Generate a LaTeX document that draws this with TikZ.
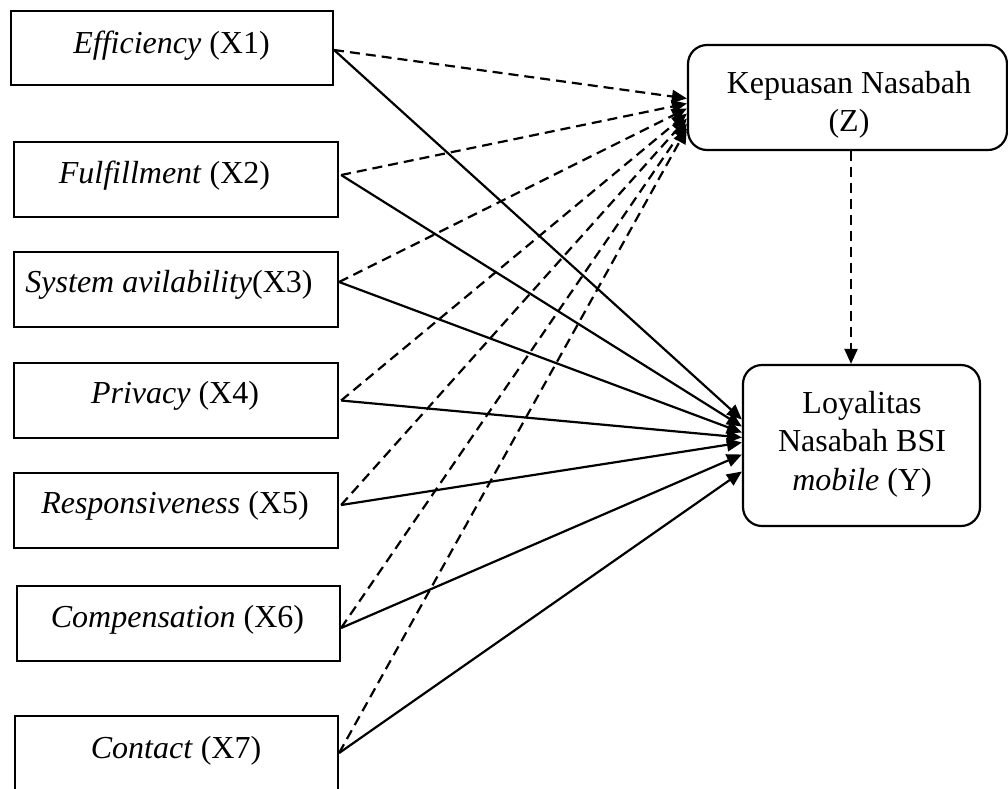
\documentclass[tikz,border=0pt]{standalone}
\usepackage{fontspec}
\setmainfont{Liberation Serif}
\usetikzlibrary{arrows.meta}
\begin{document}
\begin{tikzpicture}[x=1pt,y=-1pt,
  xbox/.style={draw,line width=2.2pt,rectangle,minimum width=#1,minimum height=75pt,inner sep=0pt},
  rbox/.style={draw,line width=2.2pt,rectangle,rounded corners=19pt,inner sep=0pt},
  lbl/.style={anchor=base,inner sep=0pt,font=\fontsize{32}{39}\selectfont},
  mlbl/.style={align=center,inner sep=0pt,font=\fontsize{32}{38.5}\selectfont},
  conn/.style={line width=2.2pt,-{Triangle[length=15pt,width=13pt]}},
  dconn/.style={conn,dash pattern=on 10pt off 6pt}]
\useasboundingbox (0,0) rectangle (1008,788);
\clip (0,0) rectangle (1008,788);
% boxes
\node[xbox=322pt,minimum height=74pt] (X1) at (172,48) {};
\node[xbox=324pt] (X2) at (176,179.5) {};
\node[xbox=324pt] (X3) at (176,289.5) {};
\node[xbox=324pt] (X4) at (176,400.5) {};
\node[xbox=324pt] (X5) at (176,510.5) {};
\node[xbox=323pt] (X6) at (178.5,623.5) {};
\node[xbox=323pt] (X7) at (176.5,753.5) {};
\node[rbox,minimum width=319pt,minimum height=105pt] (Z) at (847.5,97.5) {};
\node[rbox,minimum width=237pt,minimum height=161pt] (Y) at (861.5,445.5) {};
% labels
\node[lbl] (t1) at (171.5,53) {\textit{Efficiency} (X1)};
\node[lbl] (t2) at (164.5,183) {\textit{Fulfillment} (X2)};
\node[lbl] (t3) at (169,292) {\textit{System avilability}(X3)};
\node[lbl] (t4) at (175,403) {\textit{Privacy} (X4)};
\node[lbl] (t5) at (175,513) {\textit{Responsiveness} (X5)};
\node[lbl] (t6) at (177.5,627) {\textit{Compensation} (X6)};
\node[lbl] (t7) at (176,758) {\textit{Contact} (X7)};
\node[mlbl] (tz) at (849,105) {Kepuasan Nasabah\\(Z)};
\node[mlbl] (ty) at (862,444) {Loyalitas\\Nasabah BSI\\\textit{mobile} (Y)};
% start points
\coordinate (s1) at ([yshift=-2pt]X1.east);
\coordinate (s2) at ([xshift=2pt,yshift=4.5pt]X2.east);
\coordinate (s3) at ([yshift=7.5pt]X3.east);
\coordinate (s4) at ([xshift=2pt]X4.east);
\coordinate (s5) at ([xshift=2pt,yshift=5.5pt]X5.east);
\coordinate (s6) at ([yshift=-4.5pt]X6.east);
\coordinate (s7) at ([yshift=0.5pt]X7.east);
% end points on Z
\coordinate (z1) at ([yshift=-1pt]Z.west);
\coordinate (z2) at ([yshift=-6pt]Z.west);
\coordinate (z3) at ([yshift=-11pt]Z.west);
\coordinate (z4) at ([yshift=-16pt]Z.west);
\coordinate (z5) at ([yshift=-21pt]Z.west);
\coordinate (z6) at ([yshift=-26pt]Z.west);
\coordinate (z7) at ([yshift=-31pt]Z.west);
% end points on Y
\coordinate (y1) at ([yshift=26pt]Y.west);
\coordinate (y2) at ([yshift=19pt]Y.west);
\coordinate (y3) at ([yshift=13pt]Y.west);
\coordinate (y4) at ([yshift=8pt]Y.west);
\coordinate (y5) at ([yshift=3pt]Y.west);
\coordinate (y6) at ([yshift=-9pt]Y.west);
\coordinate (y7) at ([yshift=-26pt]Y.west);
% connectors
\foreach \i in {1,...,7}{
  \draw[dconn] (s\i) -- (z\i);
  \draw[conn] (s\i) -- (y\i);
}
\coordinate (zs) at ([xshift=3.5pt]Z.south);
\draw[dconn] (zs) -- (zs |- Y.north);
\end{tikzpicture}
\end{document}
